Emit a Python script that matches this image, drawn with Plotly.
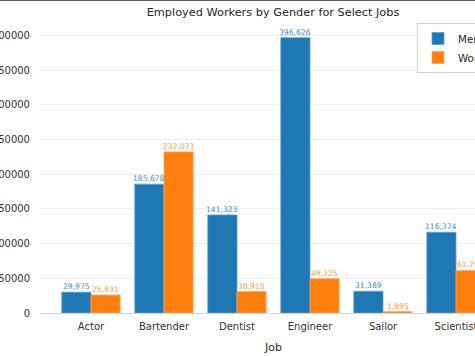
import plotly.graph_objects as go

jobs = ["Actor", "Bartender", "Dentist", "Engineer", "Sailor", "Scientist"]
men = [29975, 185678, 141323, 396626, 31389, 116374]
women = [25931, 232073, 30915, 49325, 1895, 61295]
y_ticks = [0, 50000, 100000, 150000, 200000, 250000, 300000, 350000, 400000]

W, H = 475, 356
L, R, T, B = 40, 0, 24, 43
pw, ph = W - L - R, H - T - B
CAT_PX = 73  # pixels per category

def fmt(v):
    return f"{v:,}"

font = "DejaVu Sans"
blue = "#1f77b4"
orange = "#ff7f0e"

fig = go.Figure()
fig.add_trace(go.Bar(
    x=jobs, y=men, name="Men",
    marker=dict(color=blue, line=dict(color="#5b9fd4", width=0.8)),
))
fig.add_trace(go.Bar(
    x=jobs, y=women, name="Women",
    marker=dict(color=orange, line=dict(color="#ffa65a", width=0.8)),
))

# value labels just above each bar
for vals, shift, col in [(men, -0.2, "#3f8fd0"), (women, 0.2, "#ff9a40")]:
    for j, v in zip(jobs, vals):
        fig.add_annotation(
            x=j, y=v, xref="x", yref="y", text=fmt(v), showarrow=False,
            xanchor="center", yanchor="middle", xshift=shift * CAT_PX,
            yshift=5.5, borderpad=0,
            font=dict(family=font, size=7.6, color=col))

x0 = -(91 - L) / CAT_PX
x1 = x0 + pw / CAT_PX

fig.update_layout(
    width=W, height=H,
    margin=dict(l=L, r=R, t=T, b=B, pad=0, autoexpand=False),
    paper_bgcolor="white", plot_bgcolor="white",
    barmode="group", bargap=0.2, bargroupgap=0,
    font=dict(family=font, size=10, color="#333333"),
    title=dict(text="Employed Workers by Gender for Select Jobs",
               x=273 / W, xanchor="center", xref="container",
               y=1 - 12 / H, yanchor="middle", yref="container",
               font=dict(family=font, size=11.3, color="#262626")),
    xaxis=dict(range=[x0, x1], showgrid=False, showline=True,
               linecolor="#d4d4d4", linewidth=1, ticks="outside",
               ticklen=4, tickcolor="rgba(0,0,0,0)",
               tickfont=dict(family=font, size=10, color="#333333"),
               automargin=False, fixedrange=True),
    yaxis=dict(range=[0, 416457], tickvals=y_ticks, tickformat="d",
               showgrid=True, gridcolor="#ececec", gridwidth=1,
               zeroline=False, showline=False, ticks="outside",
               ticklen=7, tickcolor="rgba(0,0,0,0)",
               tickfont=dict(family=font, size=10, color="#333333"),
               automargin=False, fixedrange=True),
    legend=dict(x=417 / W, y=1 - 23 / H, xref="container", yref="container",
                xanchor="left", yanchor="top", bgcolor="white",
                bordercolor="#d0d0d0", borderwidth=1,
                font=dict(family=font, size=10.3, color="#262626"),
                tracegroupgap=0),
    showlegend=True,
)

fig.add_annotation(text="Job", xref="paper", yref="paper",
                   x=(273 - L) / pw, y=-(347 - 313) / ph,
                   xanchor="center", yanchor="middle", showarrow=False,
                   font=dict(family=font, size=11, color="#262626"))

# thin dark frame line along the top edge of the picture
fig.add_annotation(text=" ", xref="paper", yref="paper",
                   x=-L / pw, y=313 / ph, xanchor="left", yanchor="top",
                   width=W, height=1, borderpad=0, borderwidth=0,
                   bgcolor="#5a5a5a", showarrow=False,
                   font=dict(size=1))

fig.write_html("out.html", config={"displayModeBar": False},
               post_script="document.body.style.margin='0px';document.body.style.overflow='hidden';")
